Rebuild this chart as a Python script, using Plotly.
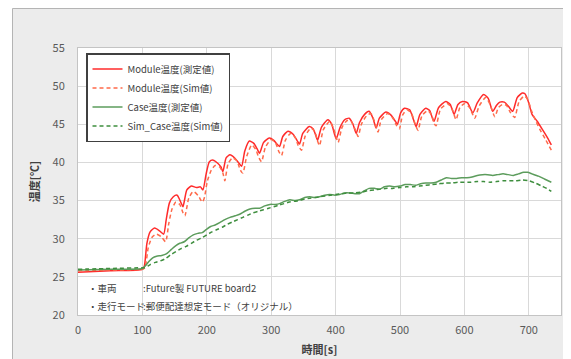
import plotly.graph_objects as go

# ---------------- data ----------------
mod_meas_t = [0, 50, 100, 103, 107, 112, 119, 127, 133, 137, 142, 148, 154, 160, 163, 169, 176, 184, 190, 194,
              199, 204, 210, 217, 222, 225, 230, 236, 243, 249, 254, 259, 266, 273, 278, 282, 288, 297, 304, 309,
              313, 318, 326, 334, 340, 344, 349, 359, 365, 369, 372, 378, 388, 394, 398, 401, 407, 414, 421, 427,
              432, 437, 445, 452, 458, 463, 468, 478, 486, 492, 496, 501, 507, 515, 521, 525, 531, 540, 546, 550,
              553, 560, 571, 578, 584, 590, 597, 605, 613, 620, 630, 637, 644, 650, 655, 662, 668, 675, 682, 690,
              694, 700, 705, 713, 722, 730, 735]
mod_meas_v = [25.6, 25.8, 26.0, 26.4, 29.4, 30.9, 31.4, 31.0, 30.6, 32.5, 34.7, 35.5, 35.7, 34.7, 34.2, 36.4, 36.9, 36.7, 36.8, 36.4,
              38.5, 40.1, 40.3, 39.9, 39.4, 38.8, 40.6, 41.0, 40.6, 40.0, 39.5, 41.5, 42.8, 42.5, 41.8, 41.2, 42.6, 43.2, 42.9, 42.4,
              42.1, 43.4, 44.1, 43.7, 42.9, 42.4, 43.8, 44.7, 44.4, 43.6, 42.9, 44.6, 45.6, 45.0, 43.8, 43.1, 44.6, 45.6, 45.8, 45.0,
              43.8, 45.2, 46.3, 46.7, 45.8, 44.5, 45.8, 46.6, 46.2, 45.5, 45.0, 46.5, 47.1, 46.9, 45.6, 44.7, 46.3, 47.1, 46.8, 45.9,
              45.4, 47.2, 48.0, 47.6, 46.3, 47.6, 48.0, 47.8, 46.5, 47.8, 48.9, 48.4, 46.7, 47.5, 47.9, 47.9, 47.4, 46.7, 48.5, 49.1,
              49.0, 47.8, 46.3, 45.4, 44.2, 43.1, 42.3]

mod_sim_t = [0, 50, 100, 104, 109, 115, 122, 130, 136, 141, 146, 152, 158, 163, 166, 172, 179, 187, 193, 196,
             201, 207, 213, 220, 225, 228, 233, 240, 247, 252, 256, 262, 270, 276, 281, 285, 291, 300, 307, 312,
             316, 322, 330, 337, 342, 347, 353, 362, 368, 372, 375, 381, 391, 397, 402, 404, 410, 418, 424, 431,
             435, 440, 448, 455, 461, 466, 471, 481, 489, 495, 499, 504, 511, 518, 524, 528, 534, 543, 549, 553,
             556, 563, 574, 581, 587, 593, 600, 608, 616, 623, 633, 640, 647, 653, 659, 665, 671, 678, 685, 693,
             698, 704, 710, 718, 726, 735]
mod_sim_v = [25.8, 25.9, 26.0, 26.2, 28.8, 30.2, 30.6, 30.2, 29.6, 32.0, 33.9, 34.8, 34.5, 33.4, 33.0, 35.3, 36.2, 35.6, 34.8, 35.3,
             37.6, 39.0, 39.6, 39.4, 38.6, 37.6, 39.8, 40.6, 40.2, 39.0, 38.6, 40.8, 42.3, 41.7, 40.6, 40.1, 42.0, 43.0, 42.5, 41.4,
             40.9, 42.9, 43.8, 43.3, 42.2, 41.6, 43.5, 44.5, 44.0, 42.8, 42.2, 44.3, 45.4, 44.4, 43.0, 42.6, 44.6, 45.5, 45.4, 44.2,
             43.4, 45.0, 46.1, 46.4, 45.2, 44.0, 45.6, 46.4, 45.8, 44.8, 44.4, 46.2, 46.9, 46.4, 44.9, 44.2, 46.1, 46.8, 46.2, 45.1,
             44.8, 47.0, 47.7, 47.0, 45.6, 47.2, 47.7, 47.2, 45.8, 47.4, 48.5, 47.6, 46.0, 47.2, 47.6, 47.5, 46.6, 45.9, 48.0, 48.7,
             48.3, 46.8, 45.6, 44.2, 43.0, 41.6]

case_meas_t = [0, 50, 100, 104, 110, 116, 122, 130, 137, 145, 152, 158, 165, 172, 179, 186, 193, 199, 206, 213,
               220, 228, 236, 244, 251, 259, 267, 275, 282, 290, 298, 306, 313, 321, 329, 337, 344, 352, 360, 368,
               375, 383, 391, 399, 406, 414, 422, 430, 437, 445, 452, 460, 468, 476, 484, 492, 500, 508, 516, 524,
               532, 540, 548, 556, 564, 572, 580, 588, 596, 604, 612, 620, 628, 636, 644, 652, 660, 668, 676, 684,
               692, 698, 705, 715, 725, 735]
case_meas_v = [25.9, 26.0, 26.1, 26.4, 27.0, 27.5, 27.7, 27.8, 28.0, 28.6, 29.1, 29.4, 29.6, 30.1, 30.5, 30.7, 30.8, 31.2, 31.6, 31.8,
               32.1, 32.5, 32.8, 33.0, 33.2, 33.6, 33.9, 34.0, 34.0, 34.3, 34.5, 34.5, 34.6, 34.9, 35.1, 35.0, 35.1, 35.4, 35.5, 35.4,
               35.5, 35.7, 35.8, 35.7, 35.8, 36.0, 36.0, 35.9, 35.9, 36.3, 36.6, 36.6, 36.5, 36.8, 36.9, 36.8, 36.9, 37.1, 37.1, 37.0,
               37.2, 37.3, 37.3, 37.4, 37.7, 38.0, 37.9, 37.9, 38.0, 38.0, 38.1, 38.3, 38.4, 38.4, 38.3, 38.4, 38.5, 38.4, 38.3, 38.5,
               38.7, 38.7, 38.5, 38.2, 37.8, 37.4]

case_sim_t = [0, 50, 100, 104, 112, 120, 128, 136, 144, 152, 160, 168, 176, 184, 192, 200, 208, 216, 224, 232,
              240, 248, 256, 264, 272, 280, 288, 296, 304, 312, 320, 328, 336, 344, 352, 360, 368, 376, 384, 392,
              400, 410, 420, 430, 440, 450, 460, 470, 480, 490, 500, 510, 520, 530, 540, 550, 560, 570, 580, 590,
              600, 610, 620, 630, 640, 650, 660, 670, 680, 690, 700, 710, 720, 728, 735]
case_sim_v = [26.0, 26.1, 26.2, 26.2, 26.6, 26.9, 27.1, 27.4, 27.9, 28.3, 28.7, 29.0, 29.4, 29.8, 30.1, 30.5, 30.9, 31.2, 31.5, 31.9,
              32.2, 32.5, 32.8, 33.1, 33.4, 33.6, 33.8, 34.0, 34.2, 34.4, 34.6, 34.8, 34.9, 35.0, 35.2, 35.3, 35.4, 35.5, 35.6, 35.7,
              35.8, 35.9, 36.0, 36.0, 36.1, 36.3, 36.4, 36.5, 36.6, 36.6, 36.7, 36.8, 36.8, 36.9, 37.0, 37.1, 37.2, 37.3, 37.3, 37.4,
              37.4, 37.4, 37.5, 37.5, 37.4, 37.5, 37.6, 37.6, 37.6, 37.7, 37.6, 37.3, 36.9, 36.6, 36.2]

series_names = ["Module温度(測定値)", "Module温度(Sim値)", "Case温度(測定値)", "Sim_Case温度(Sim値)"]
x_ticks = [0, 100, 200, 300, 400, 500, 600, 700]
y_ticks = [20, 25, 30, 35, 40, 45, 50, 55]
x_title = "時間[s]"
y_title = "温度[℃]"
note_labels = ["・車両", "・走行モード"]
note_values = [":Future製 FUTURE board2", ":郵便配達想定モード（オリジナル）"]

# ---------------- figure ----------------
# The page body has an 8px default margin, so the figure starts at (8, 8) in the window.
OFF = 8
W, H = 571 - OFF, 359 - OFF
L, R, T, B = 78 - OFF, 10, 48 - OFF, 359 - 315
PW, PH = W - L - R, H - T - B
def xp(px):          # px: window x coordinate
    return (px - OFF - L) / PW
def yp(py):          # py: window y coordinate
    return (H - B - (py - OFF)) / PH

FONT = "Noto Sans CJK JP, Noto Sans, sans-serif"

fig = go.Figure()
styles = [
    dict(color="#ff2b2b", width=1.5, dash="solid"),
    dict(color="#ff6a4a", width=1.5, dash="4px,3px"),
    dict(color="#5c9c5c", width=1.5, dash="solid"),
    dict(color="#3e8e3e", width=1.5, dash="4px,3px"),
]
for name, tt, vv, st in zip(series_names,
                            [mod_meas_t, mod_sim_t, case_meas_t, case_sim_t],
                            [mod_meas_v, mod_sim_v, case_meas_v, case_sim_v],
                            styles):
    fig.add_trace(go.Scatter(x=tt, y=vv, mode="lines", name=name, line=st,
                             line_shape="spline", line_smoothing=0.6))

shapes = [
    dict(type="rect", xref="paper", yref="paper", x0=xp(OFF), x1=xp(12.5), y0=yp(OFF + H), y1=yp(OFF),
         fillcolor="white", line_width=0, layer="below"),
    dict(type="line", xref="paper", yref="paper", x0=xp(12.5), x1=xp(12.5), y0=yp(OFF + H), y1=yp(8.5),
         line=dict(color="#b4b4b4", width=1)),
    dict(type="line", xref="paper", yref="paper", x0=xp(12.5), x1=xp(OFF + W), y0=yp(8.5), y1=yp(8.5),
         line=dict(color="#b4b4b4", width=1)),
]

annotations = []
for i, (lab, val) in enumerate(zip(note_labels, note_values)):
    ypos = yp(288 + i * 17.5)
    annotations.append(dict(text=lab, x=xp(86), y=ypos, xref="paper", yref="paper", xanchor="left",
                            yanchor="middle", showarrow=False, font=dict(size=9.5, color="#404040", family=FONT)))
    annotations.append(dict(text=val, x=xp(141), y=ypos, xref="paper", yref="paper", xanchor="left",
                            yanchor="middle", showarrow=False, font=dict(size=9.5, color="#404040", family=FONT)))

fig.update_layout(
    width=W, height=H,
    margin=dict(l=L, r=R, t=T, b=B),
    paper_bgcolor="#ececec",
    plot_bgcolor="white",
    font=dict(family=FONT, color="#404040"),
    showlegend=True,
    legend=dict(x=xp(86), y=yp(53), xanchor="left", yanchor="top",
                bgcolor="white", bordercolor="#404040", borderwidth=1.5,
                font=dict(size=9.5, color="#404040", family=FONT),
                itemwidth=30, tracegroupgap=0),
    shapes=shapes,
    annotations=annotations,
    xaxis=dict(range=[0, 750], tickvals=x_ticks, ticktext=[str(v) for v in x_ticks],
               automargin=False,
               showgrid=True, gridcolor="#d9d9d9", gridwidth=1, zeroline=False,
               showline=True, linecolor="#c4c4c4", mirror=True, linewidth=1,
               ticks="", ticklabelstandoff=5, tickfont=dict(size=11, color="#595959", family=FONT),
               title=dict(text="<b>" + x_title + "</b>", font=dict(size=11, color="#404040", family=FONT), standoff=10)),
    yaxis=dict(range=[20, 55], tickvals=y_ticks, ticktext=[str(v) for v in y_ticks],
               automargin=False,
               showgrid=True, gridcolor="#d9d9d9", gridwidth=1, zeroline=False,
               showline=True, linecolor="#c4c4c4", mirror=True, linewidth=1,
               ticks="", ticklabelstandoff=10, tickfont=dict(size=11, color="#595959", family=FONT),
               title=dict(text="<b>" + y_title + "</b>", font=dict(size=11, color="#404040", family=FONT), standoff=10)),
)

fig.write_html("out.html")
